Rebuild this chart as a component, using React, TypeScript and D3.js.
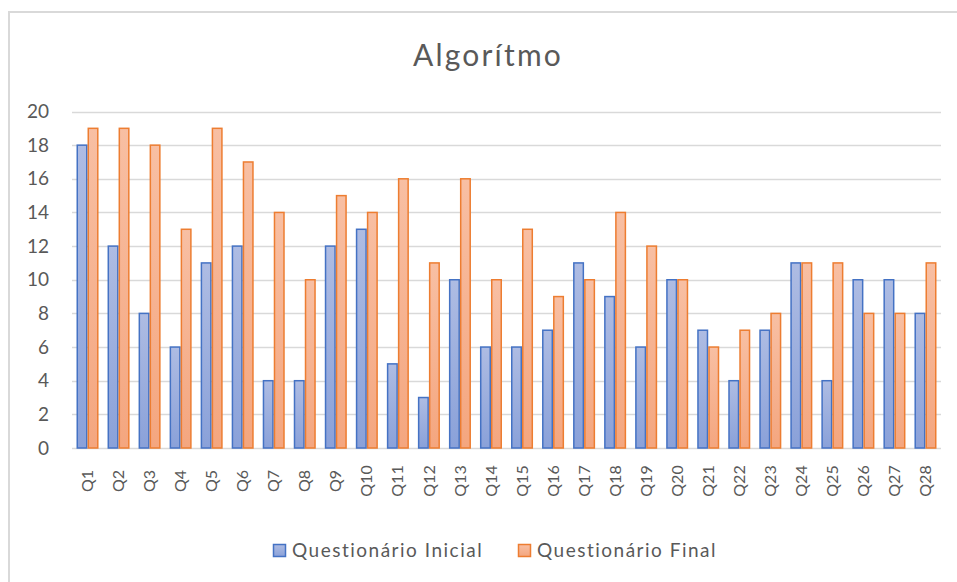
import React from "react";
import * as d3 from "d3";

const categories = ["Q1","Q2","Q3","Q4","Q5","Q6","Q7","Q8","Q9","Q10","Q11","Q12","Q13","Q14","Q15","Q16","Q17","Q18","Q19","Q20","Q21","Q22","Q23","Q24","Q25","Q26","Q27","Q28"];
const inicial = [18,12,8,6,11,12,4,4,12,13,5,3,10,6,6,7,11,9,6,10,7,4,7,11,4,10,10,8];
const final = [19,19,18,13,19,17,14,10,15,14,16,11,16,10,13,9,10,14,12,10,6,7,8,11,11,8,8,11];
const yTicks = [0,2,4,6,8,10,12,14,16,18,20];
const seriesNames = ["Questionário Inicial", "Questionário Final"];

const W = 957, H = 582;
const FONT = "Lato, 'Open Sans', sans-serif";
const TEXT = "#595959";

export default function App() {
  const x = d3.scaleBand<string>().domain(categories).range([72, 941]).paddingInner(0.29).paddingOuter(0.145);
  const sub = d3.scaleBand<string>().domain(["a", "b"]).range([0, x.bandwidth()]);
  const y = d3.scaleLinear().domain([0, 20]).range([448, 111.5]);
  const series = [
    { key: "a", values: inicial, fill: "url(#gBlue)", stroke: "#4472c4" },
    { key: "b", values: final, fill: "url(#gOrange)", stroke: "#ed7d31" },
  ];
  return (
    <svg width={W} height={H} style={{ position: "absolute", left: 0, top: 0, background: "#fff" }} fontFamily={FONT}>
      <defs>
        <linearGradient id="gBlue" x1="0" y1="0" x2="0" y2="1">
          <stop offset="0" stopColor="#aebce3" />
          <stop offset="1" stopColor="#8aa1d9" />
        </linearGradient>
        <linearGradient id="gOrange" x1="0" y1="0" x2="0" y2="1">
          <stop offset="0" stopColor="#f8bfa3" />
          <stop offset="1" stopColor="#f4a67f" />
        </linearGradient>
      </defs>
      <rect x={0} y={0} width={W} height={H} fill="#fff" />
      <rect x={9} y={12} width={W + 20} height={H + 20} fill="none" stroke="#d9d9d9" strokeWidth={2} />
      <text x={488} y={66} textAnchor="middle" fontSize={30} letterSpacing={2.2} fill={TEXT}>Algorítmo</text>
      {yTicks.map((t) => (
        <g key={t}>
          <line x1={72} x2={941} y1={Math.round(y(t)) + 0.5} y2={Math.round(y(t)) + 0.5} stroke="#d9d9d9" strokeWidth={1.5} />
          <text x={49} y={y(t)} dy="0.35em" textAnchor="end" fontSize={19} fill={TEXT}>{t}</text>
        </g>
      ))}
      {series.map((s) => (
        <g key={s.key}>
          {categories.map((c, i) => (
            <rect key={c} x={(x(c) as number) + (sub(s.key) as number) + 0.75} y={y(s.values[i])}
              width={sub.bandwidth() - 1.5} height={y(0) - y(s.values[i])}
              fill={s.fill} stroke={s.stroke} strokeWidth={1.5} />
          ))}
        </g>
      ))}
      {categories.map((c) => {
        const cx = (x(c) as number) + x.bandwidth() / 2;
        return (
          <text key={c} transform={`translate(${cx},481) rotate(-90)`} textAnchor="middle" dy="0.35em" fontSize={16} fill={TEXT}>{c}</text>
        );
      })}
      <g>
        <rect x={273.5} y={544.5} width={12} height={12} fill="url(#gBlue)" stroke="#4472c4" strokeWidth={1.5} />
        <text x={292} y={550} dy="0.35em" fontSize={19} letterSpacing={1.5} fill={TEXT}>{seriesNames[0]}</text>
        <rect x={518.5} y={544.5} width={12} height={12} fill="url(#gOrange)" stroke="#ed7d31" strokeWidth={1.5} />
        <text x={537} y={550} dy="0.35em" fontSize={19} letterSpacing={1.5} fill={TEXT}>{seriesNames[1]}</text>
      </g>
    </svg>
  );
}
